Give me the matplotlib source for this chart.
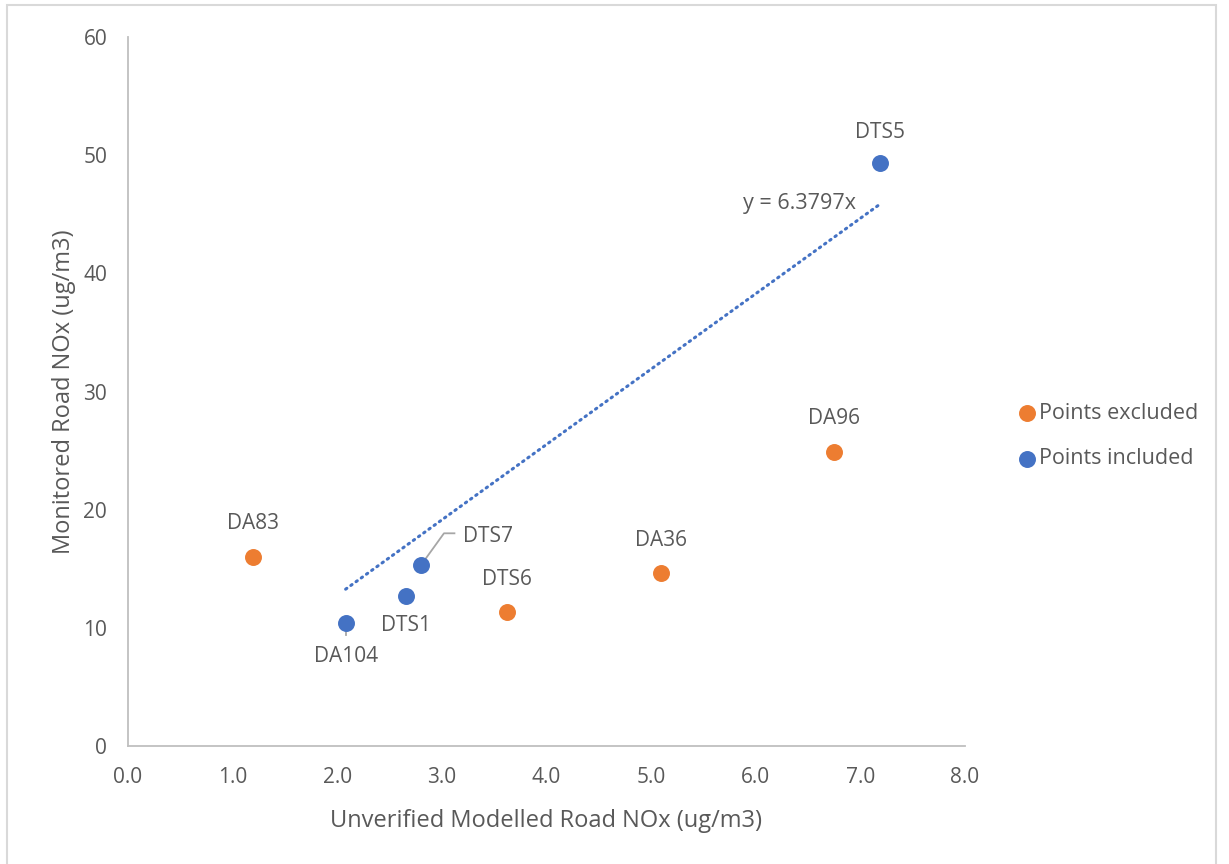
import matplotlib.pyplot as plt
import matplotlib.patches as mpatches
import numpy as np

plt.rcParams['font.family'] = ['Open Sans', 'DejaVu Sans']

# Daten
excl_names = ['DA83', 'DTS6', 'DA36', 'DA96']
excl_x = [1.19, 3.62, 5.09, 6.75]
excl_y = [16.0, 11.3, 14.6, 24.9]

incl_names = ['DA104', 'DTS1', 'DTS7', 'DTS5']
incl_x = [2.08, 2.66, 2.80, 7.19]
incl_y = [10.4, 12.7, 15.3, 49.3]

slope = 6.3797

orange = '#ED7D31'
blue = '#4472C4'
txt = '#595959'
axcol = '#BFBFBF'
fs_lab = 15

fig = plt.figure(figsize=(12.29, 8.64), dpi=100)
ax = fig.add_axes([128/1229, 1-746/864, (965-128)/1229, (746-37)/864])

# Rahmen um das ganze Diagramm
fig.patches.append(mpatches.Rectangle((7/1229, -0.01), (1216-7)/1229, 1-5/864+0.01,
                                      transform=fig.transFigure, fill=False,
                                      edgecolor='#D9D9D9', lw=1.5))

# Trendlinie
xt = np.array([min(incl_x), max(incl_x)])
ax.plot(xt, slope*xt, color=blue, lw=2.2, linestyle=(0, (0.5, 1.6)),
        dash_capstyle='round', zorder=2)
ax.text(6.96, 45.9, 'y = 6.3797x', ha='right', va='center',
        fontsize=15.5, color=txt)

ax.scatter(excl_x, excl_y, s=125, color=orange, zorder=3, label='Points excluded')
ax.scatter(incl_x, incl_y, s=125, color=blue, zorder=3, label='Points included')

# Beschriftungen der Punkte
for n, x, y in zip(excl_names, excl_x, excl_y):
    ax.annotate(n, (x, y), xytext=(0, 24), textcoords='offset points',
                ha='center', va='center', fontsize=fs_lab, color=txt)

ax.annotate('DTS5', (incl_x[3], incl_y[3]), xytext=(0, 22), textcoords='offset points',
            ha='center', va='center', fontsize=fs_lab, color=txt)
ax.annotate('DTS1', (incl_x[1], incl_y[1]), xytext=(0, -21), textcoords='offset points',
            ha='center', va='center', fontsize=fs_lab, color=txt)
ax.annotate('DA104', (incl_x[0], incl_y[0]), xytext=(0, -24), textcoords='offset points',
            ha='center', va='center', fontsize=fs_lab, color=txt)
ax.plot([incl_x[0], incl_x[0]], [incl_y[0] - 0.3, incl_y[0] - 1.0], color='#A6A6A6', lw=1.3, zorder=2)
ax.annotate('DTS7', (incl_x[2], incl_y[2]), xytext=(30, 21), textcoords='offset points',
            ha='left', va='center', fontsize=fs_lab, color=txt)
ax.plot([incl_x[2], incl_x[2] + 0.22, incl_x[2] + 0.32],
        [incl_y[2], incl_y[2] + 2.7, incl_y[2] + 2.7], color='#A6A6A6', lw=1.3, zorder=2)

ax.set_xlim(0, 8)
ax.set_ylim(0, 60)
ax.set_xticks(np.arange(0, 8.1, 1))
ax.set_xticklabels([f'{v:.1f}' for v in np.arange(0, 8.1, 1)])
ax.set_yticks(np.arange(0, 61, 10))

for s in ['top', 'right']:
    ax.spines[s].set_visible(False)
for s in ['left', 'bottom']:
    ax.spines[s].set_color(axcol)
    ax.spines[s].set_linewidth(1.3)
ax.tick_params(length=0, labelsize=15, colors=txt)
ax.tick_params(axis='y', pad=15)
ax.tick_params(axis='x', pad=15)

ax.set_xlabel('Unverified Modelled Road NOx (ug/m3)', fontsize=17, color=txt, labelpad=15)
ax.set_ylabel('Monitored Road NOx (ug/m3)', fontsize=17, color=txt, labelpad=5)

leg = fig.legend(loc='center left', bbox_to_anchor=(1008/1229, 1-436/864), frameon=False,
                 fontsize=15.5, handlelength=1, handletextpad=0.05, labelspacing=1.15,
                 borderaxespad=0)
for t in leg.get_texts():
    t.set_color(txt)

fig.savefig('out.png', dpi=100)
